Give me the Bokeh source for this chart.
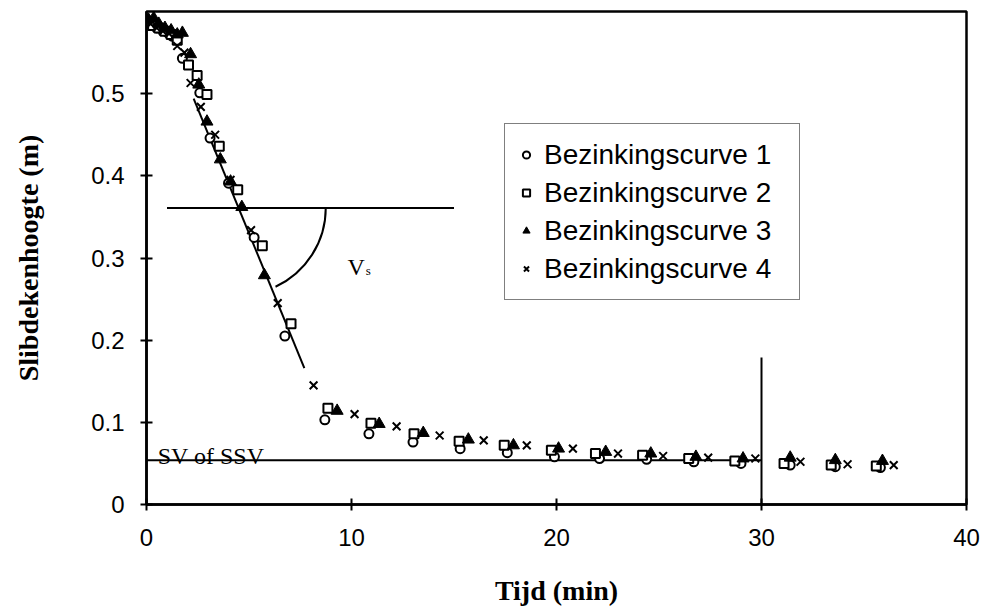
import math
from bokeh.plotting import figure
from bokeh.models import Range1d, FixedTicker, Legend, LegendItem
from bokeh.core.properties import value
from bokeh.embed import file_html
from bokeh.resources import INLINE

# ---------------- data ----------------
c1_x = [0.0, 0.25, 0.5, 0.75, 1.0, 1.25, 1.75, 2.6, 3.1, 4.0, 5.25, 6.75, 8.7, 10.85, 13.0, 15.3, 17.6, 19.9, 22.1, 24.4, 26.7, 29.0, 31.4, 33.6, 35.8]
c1_y = [0.590, 0.585, 0.580, 0.578, 0.575, 0.570, 0.543, 0.501, 0.446, 0.391, 0.325, 0.205, 0.103, 0.086, 0.076, 0.068, 0.063, 0.058, 0.056, 0.055, 0.052, 0.050, 0.048, 0.046, 0.045]

c2_x = [0.0, 0.3, 0.6, 0.9, 1.2, 1.5, 2.05, 2.47, 2.95, 3.55, 4.45, 5.65, 7.05, 8.85, 10.95, 13.05, 15.25, 17.45, 19.75, 21.9, 24.2, 26.45, 28.7, 31.1, 33.4, 35.6]
c2_y = [0.588, 0.583, 0.580, 0.576, 0.572, 0.565, 0.535, 0.522, 0.499, 0.436, 0.383, 0.315, 0.220, 0.117, 0.099, 0.086, 0.077, 0.072, 0.066, 0.062, 0.060, 0.056, 0.053, 0.050, 0.048, 0.047]

c3_x = [0.1, 0.35, 0.6, 0.9, 1.2, 1.5, 1.75, 2.15, 2.55, 2.95, 3.6, 4.1, 4.65, 5.75, 9.3, 11.35, 13.5, 15.7, 17.9, 20.1, 22.4, 24.6, 26.8, 29.1, 31.4, 33.6, 35.9]
c3_y = [0.590, 0.592, 0.585, 0.580, 0.577, 0.572, 0.574, 0.548, 0.511, 0.466, 0.420, 0.393, 0.362, 0.279, 0.114, 0.098, 0.087, 0.079, 0.072, 0.068, 0.064, 0.062, 0.058, 0.056, 0.057, 0.054, 0.053]

c4_x = [0.2, 0.5, 0.8, 1.1, 1.5, 1.85, 2.15, 2.65, 3.35, 4.1, 5.1, 6.4, 8.15, 10.15, 12.2, 14.3, 16.45, 18.55, 20.8, 23.0, 25.2, 27.4, 29.7, 31.9, 34.2, 36.45]
c4_y = [0.585, 0.580, 0.576, 0.573, 0.558, 0.550, 0.513, 0.484, 0.450, 0.395, 0.334, 0.245, 0.145, 0.110, 0.095, 0.084, 0.078, 0.072, 0.068, 0.062, 0.059, 0.057, 0.056, 0.052, 0.049, 0.048]

series_labels = ["Bezinkingscurve 1", "Bezinkingscurve 2", "Bezinkingscurve 3", "Bezinkingscurve 4"]

# construction lines
fit_x = [2.3, 7.7]
fit_y = [0.494, 0.166]
hline_x = [1.0, 15.0]
hline_y = [0.361, 0.361]
sv_x = [0.0, 30.0]
sv_y = [0.054, 0.054]
vline_x = [30.0, 30.0]
vline_y = [0.0, 0.179]
arc_center = (4.5, 0.361)

x_ticks = [0, 10, 20, 30, 40]
y_ticks = [0, 0.1, 0.2, 0.3, 0.4, 0.5]
y_tick_labels = ["0", "0.1", "0.2", "0.3", "0.4", "0.5"]

# ---------------- figure ----------------
p = figure(width=985, height=612, x_range=Range1d(0, 40), y_range=Range1d(0, 0.6),
           output_backend="svg", toolbar_location=None,
           min_border_left=146, min_border_right=19, min_border_top=11, min_border_bottom=108)
p.background_fill_color = "white"
p.border_fill_color = "white"
p.xgrid.visible = False
p.ygrid.visible = False
p.outline_line_color = "black"
p.outline_line_width = 2.5

for ax in (p.xaxis[0], p.yaxis[0]):
    ax.axis_line_width = 2.5
    ax.axis_line_color = "black"
    ax.major_tick_line_width = 2
    ax.major_tick_line_color = "black"
    ax.major_tick_in = 6
    ax.major_tick_out = 6
    ax.minor_tick_line_color = None
    ax.major_label_text_font = "Liberation Sans"
    ax.major_label_text_font_size = "24px"
    ax.major_label_text_color = "black"
    ax.axis_label_text_font = "Liberation Serif"
    ax.axis_label_text_font_style = "bold"
    ax.axis_label_text_font_size = "28px"
    ax.axis_label_text_color = "black"

p.xaxis[0].ticker = FixedTicker(ticks=x_ticks)
p.yaxis[0].ticker = FixedTicker(ticks=y_ticks)
p.yaxis[0].major_label_overrides = {t: l for t, l in zip(y_ticks, y_tick_labels)}
p.xaxis[0].axis_label = "Tijd (min)"
p.yaxis[0].axis_label = "Slibdekenhoogte (m)"
p.yaxis[0].major_label_standoff = 16
p.yaxis[0].axis_label_standoff = 44
p.xaxis[0].major_label_standoff = 18
p.xaxis[0].axis_label_standoff = 26

# construction lines
p.line(fit_x, fit_y, line_color="black", line_width=2)
p.line(hline_x, hline_y, line_color="black", line_width=2)
p.line(sv_x, sv_y, line_color="black", line_width=2)
p.line(vline_x, vline_y, line_color="black", line_width=2)
p.arc(x=[arc_center[0]], y=[arc_center[1]], radius=87, radius_units="screen",
      start_angle=math.radians(-65), end_angle=0, line_color="black", line_width=2)

# annotations
p.text(x=[9.8], y=[0.289], text=["V"], text_font=value("Liberation Serif"),
       text_font_size="24px", text_baseline="alphabetic", text_color="black")
p.text(x=[10.7], y=[0.285], text=["s"], text_font=value("Liberation Serif"),
       text_font_size="13px", text_baseline="alphabetic", text_color="black")
p.text(x=[0.55], y=[0.059], text=["SV of SSV"], text_font=value("Liberation Serif"),
       text_font_size="24px", text_baseline="alphabetic", text_color="black")

# series
r1 = p.scatter(c1_x, c1_y, marker="circle", size=9, line_color="black", line_width=2, fill_color="white")
r2 = p.scatter(c2_x, c2_y, marker="square", size=9, line_color="black", line_width=2, fill_color="white")
r3 = p.scatter(c3_x, c3_y, marker="triangle", size=12, line_color="black", line_width=1, fill_color="black")
r4 = p.scatter(c4_x, c4_y, marker="x", size=11, line_color="black", line_width=2)

legend = Legend(items=[LegendItem(label=l, renderers=[r]) for l, r in zip(series_labels, [r1, r2, r3, r4])],
                location=(358, 204))
legend.border_line_color = "black"
legend.border_line_width = 1.5
legend.background_fill_color = "white"
legend.background_fill_alpha = 1
legend.label_text_font = "Liberation Sans"
legend.label_text_font_size = "28px"
legend.label_text_color = "black"
legend.padding = 12
legend.margin = 0
legend.spacing = 1
legend.glyph_width = 18
legend.glyph_height = 37
legend.label_height = 37
legend.label_standoff = 9
legend.label_width = 243
p.add_layout(legend, "center")

open("out.html", "w").write(file_html(p, INLINE))
